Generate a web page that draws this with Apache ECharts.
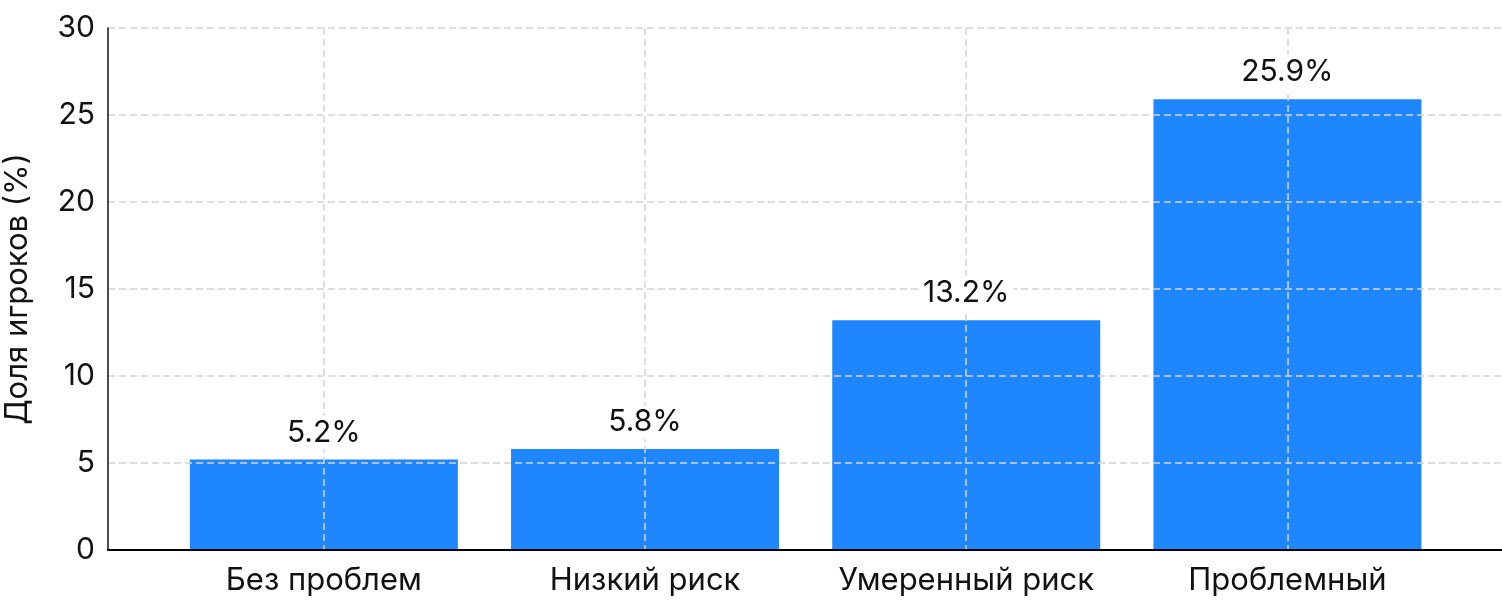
<!DOCTYPE html>
<html>
<head>
<meta charset="utf-8">
<title>Доля игроков</title>
<script src="https://cdn.jsdelivr.net/npm/echarts@6/dist/echarts.min.js"></script>
<style>
  html, body { margin: 0; padding: 0; background: #fff; }
  #chart { width: 1502px; height: 612px; }
</style>
</head>
<body>
<div id="chart"></div>
<script>
// данные
var categories = ['Без проблем', 'Низкий риск', 'Умеренный риск', 'Проблемный'];
var shares = [5.2, 5.8, 13.2, 25.9];
var yTicks = [0, 5, 10, 15, 20, 25, 30];

var catIndex = categories.map(function (c, i) { return i; });
var barData = shares.map(function (v, i) { return [i, v]; });

var chart = echarts.init(document.getElementById('chart'));
var gridLine = { show: true, lineStyle: { color: '#d4d4d4', width: 1.5, type: [7, 4] } };

var option = {
    animation: false,
    textStyle: { fontFamily: 'Inter' },
    grid: { left: 108, right: 0, top: 28, bottom: 62, containLabel: false, outerBoundsMode: 'none' },
    xAxis: {
        type: 'value',
        min: -0.672,
        max: 3.668,
        z: 3,
        axisLine: { show: true, onZero: false, lineStyle: { color: '#000', width: 2 } },
        axisTick: { show: false, customValues: catIndex },
        axisLabel: {
            customValues: catIndex,
            color: '#111',
            fontSize: 31,
            margin: 15,
            formatter: function (v) { return categories[Math.round(v)]; }
        },
        splitLine: gridLine
    },
    yAxis: {
        type: 'value',
        min: yTicks[0],
        max: yTicks[yTicks.length - 1],
        interval: 5,
        z: 3,
        name: 'Доля игроков (%)',
        nameLocation: 'middle',
        nameGap: 75,
        nameTextStyle: { color: '#111', fontSize: 31 },
        axisLine: { show: true, onZero: false, lineStyle: { color: '#111', width: 1.5 } },
        axisTick: { show: false },
        axisLabel: { color: '#111', fontSize: 30, margin: 13 },
        splitLine: gridLine
    },
    series: [
        {
            name: 'bars',
            type: 'bar',
            data: barData,
            barWidth: 268,
            z: 1,
            itemStyle: { color: '#1E86FF' }
        },
        {
            // подписи поверх сетки
            name: 'labels',
            type: 'bar',
            data: barData,
            barWidth: 268,
            barGap: '-100%',
            z: 5,
            itemStyle: { color: 'rgba(0,0,0,0)' },
            label: {
                show: true,
                position: 'top',
                distance: 10,
                color: '#111',
                fontSize: 30,
                backgroundColor: '#fff',
                padding: [2, 4],
                formatter: function (p) { return p.value[1].toFixed(1) + '%'; }
            }
        }
    ]
};
chart.setOption(option);
</script>
</body>
</html>
